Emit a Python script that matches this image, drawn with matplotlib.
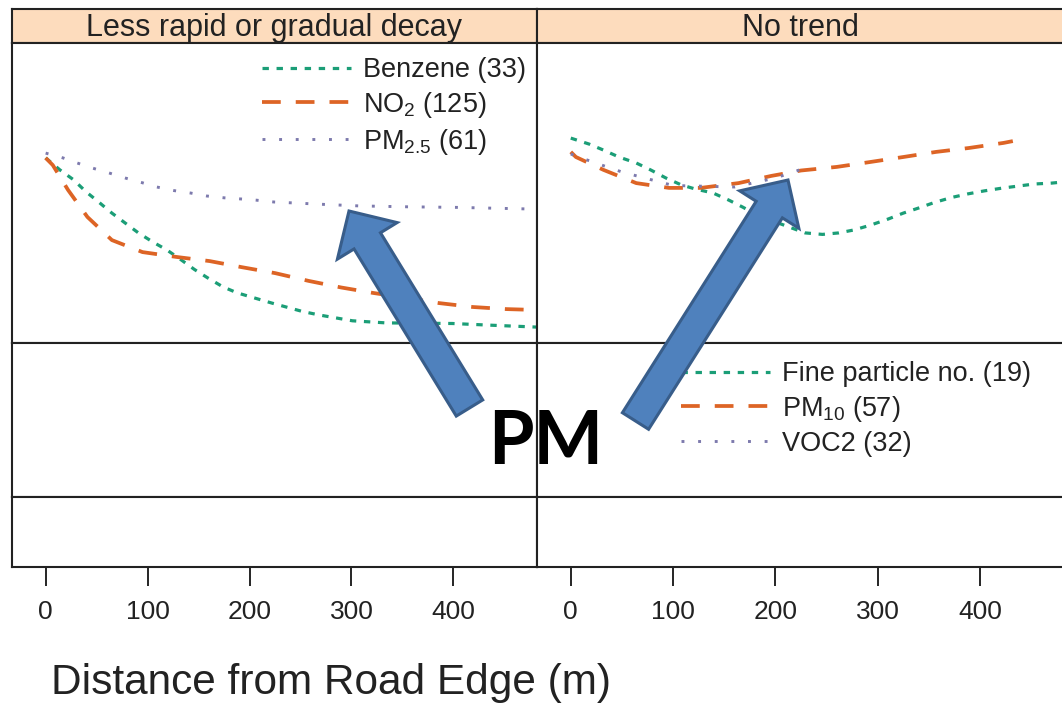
import matplotlib.pyplot as plt
from matplotlib.patches import FancyArrow

plt.rcParams['font.family'] = ['Liberation Sans', 'DejaVu Sans']
plt.rcParams['mathtext.default'] = 'regular'

W, H = 1062, 707

# panel titles
strips = ["Less rapid or gradual decay", "No trend"]

# left panel: less rapid or gradual decay
benz_x = [0, 14, 27, 40, 52, 65, 78, 91, 105, 119, 133, 146, 159, 174, 188, 205, 222,
          252, 269, 301, 334, 399, 432, 482]
benz_y = [0.617, 0.577, 0.545, 0.503, 0.470, 0.433, 0.400, 0.367, 0.337, 0.310, 0.277,
          0.245, 0.217, 0.187, 0.167, 0.150, 0.133, 0.105, 0.093, 0.074, 0.067, 0.065,
          0.060, 0.053]
no2_x = [0, 7, 22, 41, 65, 95, 128, 161, 192, 225, 258, 290, 321, 354, 386, 419, 452, 482]
no2_y = [0.617, 0.593, 0.510, 0.420, 0.343, 0.303, 0.287, 0.273, 0.253, 0.233, 0.207,
         0.185, 0.167, 0.150, 0.133, 0.120, 0.113, 0.110]
pm25_x = [0, 17, 31, 46, 62, 78, 94, 109, 126, 142, 158, 175, 192, 207, 224, 273, 307,
          355, 404, 471]
pm25_y = [0.633, 0.617, 0.600, 0.583, 0.567, 0.550, 0.535, 0.520, 0.508, 0.500, 0.490,
          0.484, 0.480, 0.476, 0.470, 0.462, 0.457, 0.454, 0.452, 0.447]

# right panel: no trend
fine_x = [0, 18, 32, 47, 64, 78, 93, 108, 122, 139, 154, 168, 183, 213, 229, 246, 262,
          277, 293, 310, 325, 340, 355, 372, 388, 404, 421, 437, 453, 470, 482]
fine_y = [0.683, 0.663, 0.643, 0.620, 0.600, 0.577, 0.550, 0.527, 0.513, 0.500, 0.477,
          0.453, 0.425, 0.387, 0.367, 0.362, 0.367, 0.377, 0.393, 0.413, 0.433, 0.450,
          0.468, 0.485, 0.497, 0.507, 0.516, 0.523, 0.530, 0.533, 0.537]
pm10_x = [0, 5, 32, 64, 96, 127, 164, 196, 225, 260, 292, 325, 357, 389, 423, 432]
pm10_y = [0.637, 0.620, 0.577, 0.533, 0.517, 0.517, 0.533, 0.557, 0.575, 0.587, 0.603,
          0.620, 0.637, 0.650, 0.667, 0.673]
voc_x = [0, 20, 50, 100, 160, 200, 235]
voc_y = [0.630, 0.605, 0.570, 0.525, 0.520, 0.550, 0.590]

left_labels = ["Benzene (33)", "NO$_2$ (125)", "PM$_{2.5}$ (61)"]
right_labels = ["Fine particle no. (19)", "PM$_{10}$ (57)", "VOC2 (32)"]
xticks = [0, 100, 200, 300, 400]

green, orange, purple = '#1b9e77', '#dd6425', '#7d7aad'
strip_col = '#fddcbd'


def rect(x0, y0, x1, y1):
    return [x0 / W, 1 - y1 / H, (x1 - x0) / W, (y1 - y0) / H]


fig = plt.figure(figsize=(W / 100, H / 100), dpi=100, facecolor='white')

cols = [(12, 537), (537, 1064)]
rows = [(43, 343), (343, 497), (497, 567)]
axes = {}
for c, (x0, x1) in enumerate(cols):
    s = fig.add_axes(rect(x0, 9, x1, 43))
    s.set_facecolor(strip_col)
    s.set_xticks([])
    s.set_yticks([])
    s.text(0.5, 0.45, strips[c], ha='center', va='center', fontsize=22,
           color='#222222', transform=s.transAxes)
    for r, (y0, y1) in enumerate(rows):
        ax = fig.add_axes(rect(x0, y0, x1, y1))
        ax.set_xlim(-33, 482)
        ax.set_ylim(0, 1)
        ax.set_yticks([])
        if r == 2:
            ax.set_xticks(xticks)
            ax.tick_params(axis='x', length=14, width=1.2, pad=10, labelsize=19,
                           labelcolor='#222222')
        else:
            ax.set_xticks([])
        axes[(r, c)] = ax
    for a in [s] + [axes[(r, c)] for r in range(3)]:
        for sp in a.spines.values():
            sp.set_linewidth(1.5)
            sp.set_color('#222222')

leg_kw = dict(loc='upper left', frameon=False, fontsize=19.5, bbox_transform=fig.transFigure,
              borderpad=0, borderaxespad=0, handlelength=3.3, handletextpad=0.42,
              labelspacing=0.25, labelcolor='#222222')

ax = axes[(0, 0)]
l1, = ax.plot(benz_x, benz_y, color=green, lw=2.3, dashes=(2, 2.4))
l2, = ax.plot(no2_x, no2_y, color=orange, lw=2.7, dashes=(5, 4))
l3, = ax.plot(pm25_x, pm25_y, color=purple, lw=2.1, dashes=(1, 4.7))
ax.legend([l1, l2, l3], left_labels, bbox_to_anchor=(262 / W, 1 - 57 / H), **leg_kw)

ax = axes[(0, 1)]
r1, = ax.plot(fine_x, fine_y, color=green, lw=2.3, dashes=(2, 2.4))
r2, = ax.plot(pm10_x, pm10_y, color=orange, lw=2.7, dashes=(5, 4))
r3, = ax.plot(voc_x, voc_y, color=purple, lw=2.1, dashes=(1, 4.7))
axes[(1, 1)].legend([r1, r2, r3], right_labels, bbox_to_anchor=(681 / W, 1 - 361 / H),
                    **leg_kw)

for r in range(3):
    axes[(r, 1)].spines['right'].set_visible(False)

fig.text(51 / W, 1 - 683 / H, "Distance from Road Edge (m)", fontsize=30.5,
         ha='left', va='center', color='#222222')

# overlay for the arrows and "PM" label, in pixel units
ov = fig.add_axes([0, 0, 1, 1], facecolor='none')
ov.set_xlim(0, W)
ov.set_ylim(H, 0)
ov.axis('off')
arrows = [((469.5, 408), (349, 211)), ((635.5, 421), (788, 180))]
for (tx, ty), (hx, hy) in arrows:
    ov.add_patch(FancyArrow(tx, ty, hx - tx, hy - ty, width=31, head_width=70,
                            head_length=35, length_includes_head=True,
                            facecolor='#4f81bd', edgecolor='#385d8a', lw=2.2))
ov.text(545.5, 443, "PM", fontsize=53, fontweight='bold', family='Lato',
        ha='center', va='center', color='black')

fig.savefig('out.png', dpi=100)
